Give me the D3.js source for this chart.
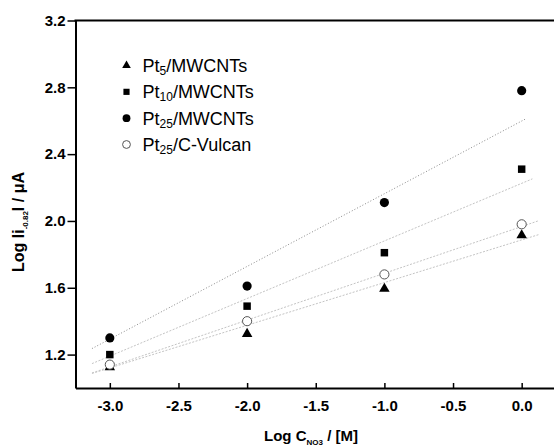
<!DOCTYPE html>
<html><head><meta charset="utf-8">
<script src="https://cdn.jsdelivr.net/npm/d3@7"></script>
<style>body{margin:0;background:#fff}svg{display:block}text{font-family:Arial,"Liberation Sans",sans-serif}</style>
</head><body>
<svg id="c" width="554" height="446"></svg>
<script>
const xValues = [-3, -2, -1, 0];
const pt5 = [1.13, 1.33, 1.60, 1.92];
const pt10 = [1.20, 1.49, 1.81, 2.31];
const pt25 = [1.30, 1.61, 2.11, 2.78];
const vulcan = [1.14, 1.40, 1.68, 1.98];
// fitted line endpoints [[x0,y0],[x1,y1]]
const fitPt5 = [[-3.13, 1.087], [0.131, 1.920]];
const fitPt10 = [[-3.13, 1.146], [0.078, 2.252]];
const fitPt25 = [[-3.13, 1.236], [0.027, 2.610]];
const fitVulcan = [[-3.13, 1.090], [0.119, 2.000]];
const xTicks = [-3.0, -2.5, -2.0, -1.5, -1.0, -0.5, 0.0];
const xTickLabels = ["-3.0", "-2.5", "-2.0", "-1.5", "-1.0", "-0.5", "0.0"];
const yTicks = [1.2, 1.6, 2.0, 2.4, 2.8, 3.2];
const yTickLabels = ["1.2", "1.6", "2.0", "2.4", "2.8", "3.2"];
const legendNames = [["Pt", "5", "/MWCNTs"], ["Pt", "10", "/MWCNTs"], ["Pt", "25", "/MWCNTs"], ["Pt", "25", "/C-Vulcan"]];

const svg = d3.select("#c");
const L = 75.5, R = 556, T = 20.5, B = 388;
const x = d3.scaleLinear().domain([-3.25, 0.25]).range([L, R]);
const y = d3.scaleLinear().domain([1.0, 3.2]).range([B, T]);

// fit lines
const fits = [
  {d: fitPt25, c: "#8a8a8a", dash: "1,2"},
  {d: fitPt10, c: "#c4c4c4", dash: "2,1.5"},
  {d: fitVulcan, c: "#c4c4c4", dash: "2,1.5"},
  {d: fitPt5, c: "#c4c4c4", dash: "2,1.5"}
];
const line = d3.line().x(d => x(d[0])).y(d => y(d[1]));
fits.forEach(f => svg.append("path").attr("d", line(f.d)).attr("fill", "none")
  .attr("stroke", f.c).attr("stroke-width", 1).attr("stroke-dasharray", f.dash));

// symbols
const sym = {
  tri: d3.symbol().type(d3.symbolTriangle).size(48),
  sq: d3.symbol().type(d3.symbolSquare).size(56),
  circ: d3.symbol().type(d3.symbolCircle).size(66),
};
const series = [
  {v: pt5, s: sym.tri, fill: "#000", stroke: "none", dy: 1},
  {v: pt10, s: sym.sq, fill: "#000", stroke: "none", dy: 0},
  {v: pt25, s: sym.circ, fill: "#000", stroke: "none", dy: 0},
  {v: vulcan, s: sym.circ, fill: "#fff", stroke: "#555", dy: 0}
];
series.forEach(se => {
  svg.append("g").selectAll("path").data(se.v).join("path")
    .attr("d", se.s())
    .attr("transform", (d, i) => `translate(${x(xValues[i])},${y(d) + se.dy})`)
    .attr("fill", se.fill).attr("stroke", se.stroke).attr("stroke-width", 1);
});

// axes
const xAxis = d3.axisBottom(x).tickValues(xTicks).tickFormat((d, i) => xTickLabels[i]).tickSizeInner(-5).tickSizeOuter(0).tickPadding(12);
const gx = svg.append("g").attr("transform", `translate(0,${B})`).call(xAxis);
gx.select(".domain").attr("stroke", "#000").attr("stroke-width", 2);
gx.selectAll(".tick line").attr("stroke", "#000").attr("stroke-width", 1.5);
gx.selectAll("text").attr("font-size", 15).attr("font-weight", "bold").attr("fill", "#000")
  .attr("font-family", "Arial, 'Liberation Sans', sans-serif");

const yAxis = d3.axisLeft(y).tickValues(yTicks).tickFormat((d, i) => yTickLabels[i]).tickSizeInner(8).tickSizeOuter(0).tickPadding(2);
const gy = svg.append("g").attr("transform", `translate(${L},0)`).call(yAxis);
gy.select(".domain").attr("stroke", "#000").attr("stroke-width", 2);
gy.selectAll(".tick line").attr("stroke", "#000").attr("stroke-width", 1.5);
gy.selectAll("text").attr("font-size", 15).attr("font-weight", "bold").attr("fill", "#000")
  .attr("font-family", "Arial, 'Liberation Sans', sans-serif");

// top border
svg.append("line").attr("x1", L - 1).attr("x2", R).attr("y1", T).attr("y2", T).attr("stroke", "#000").attr("stroke-width", 2);

// axis titles
const xt = svg.append("text").attr("x", 311).attr("y", 441).attr("text-anchor", "middle")
  .attr("font-size", 15).attr("font-weight", "bold");
xt.append("tspan").text("Log C");
xt.append("tspan").text("NO3").attr("font-size", 8).attr("dy", 4);
xt.append("tspan").text(" / [M]").attr("dy", -4);

const yt = svg.append("text").attr("transform", "translate(24,222) rotate(-90)").attr("text-anchor", "middle")
  .attr("font-size", 16).attr("font-weight", "bold");
yt.append("tspan").text("Log Ii");
yt.append("tspan").text("-0.82").attr("font-size", 8).attr("dy", 4);
yt.append("tspan").text("I / μA").attr("dy", -4);

// legend
const legSyms = [
  {s: d3.symbol().type(d3.symbolTriangle).size(32), fill: "#000", stroke: "none"},
  {s: d3.symbol().type(d3.symbolSquare).size(38), fill: "#000", stroke: "none"},
  {s: d3.symbol().type(d3.symbolCircle).size(48), fill: "#000", stroke: "none"},
  {s: d3.symbol().type(d3.symbolCircle).size(48), fill: "#fff", stroke: "#555"}
];
const legY = d3.scalePoint().domain(d3.range(4)).range([65.5, 144.5]);
legendNames.forEach((n, i) => {
  const yy = legY(i);
  svg.append("path").attr("d", legSyms[i].s()).attr("transform", `translate(126.5,${yy})`)
    .attr("fill", legSyms[i].fill).attr("stroke", legSyms[i].stroke);
  const t = svg.append("text").attr("x", 142.5).attr("y", yy + 6.5).attr("font-size", 18);
  t.append("tspan").text(n[0]);
  t.append("tspan").text(n[1]).attr("font-size", 12).attr("dy", 3);
  t.append("tspan").text(n[2]).attr("dy", -3);
});
</script>
</body></html>
